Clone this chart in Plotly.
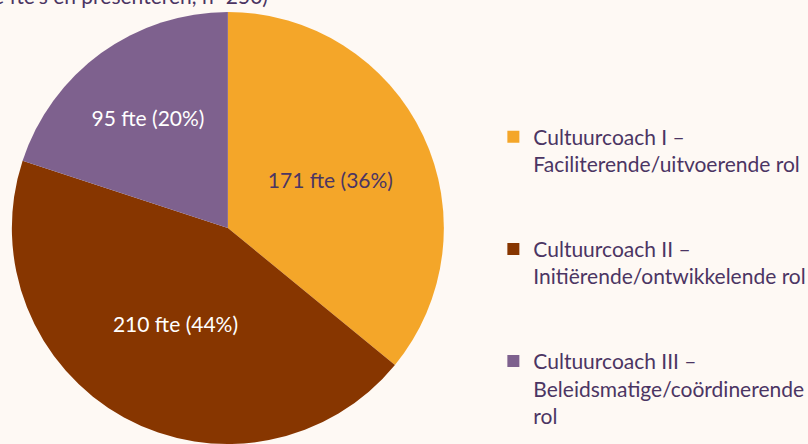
import plotly.graph_objects as go

BG = "#FEF9F4"
TEXT = "#4B3563"

rollen = [
    "Cultuurcoach I –<br>Faciliterende/uitvoerende rol",
    "Cultuurcoach II –<br>Initiërende/ontwikkelende rol",
    "Cultuurcoach III –<br>Beleidsmatige/coördinerende<br>rol",
]
fte = [171, 210, 95]
kleuren = ["#F4A629", "#873600", "#7E618E"]
label_kleuren = [TEXT, "white", "white"]

# extra lege regels om de legenda-items uit elkaar te zetten
pad = ["<br> <br> ", "<br> <br> ", ""]
legend_labels = [r + p for r, p in zip(rollen, pad)]

fig = go.Figure(
    go.Pie(
        labels=legend_labels,
        values=fte,
        sort=False,
        direction="clockwise",
        marker=dict(colors=kleuren, line=dict(width=0)),
        texttemplate="%{value} fte (%{percent:.0%})",
        textposition="inside",
        insidetextorientation="horizontal",
        textfont=dict(color=label_kleuren, size=21, family="Lato"),
        domain=dict(x=[0, 0.564], y=[0, 1]),
        hoverinfo="skip",
    )
)

fig.add_annotation(
    text="Inzet cultuurcoaches naar rol (in fte, afgerond op hele fte's en presenteren, n=250)",
    xref="paper", yref="paper",
    x=0, xanchor="right", xshift=270,
    y=1, yanchor="bottom", yshift=2,
    showarrow=False,
    font=dict(size=21, color=TEXT, family="Lato"),
)

fig.update_layout(
    width=808,
    height=444,
    margin=dict(l=0, r=0, t=12, b=0, autoexpand=False),
    paper_bgcolor=BG,
    plot_bgcolor=BG,
    font=dict(family="Lato", color=TEXT, size=21),
    legend=dict(
        x=0.6106, y=0.758, xanchor="left", yanchor="top",
        valign="top", itemwidth=30,
        bgcolor="rgba(0,0,0,0)",
        font=dict(size=21, color=TEXT, family="Lato"),
    ),
)

# geen witte paginamarge rond de figuur
fig.write_html(
    "out.html",
    config={"displayModeBar": False},
    post_script="document.body.style.margin='0';document.body.style.background='" + BG + "';",
)
